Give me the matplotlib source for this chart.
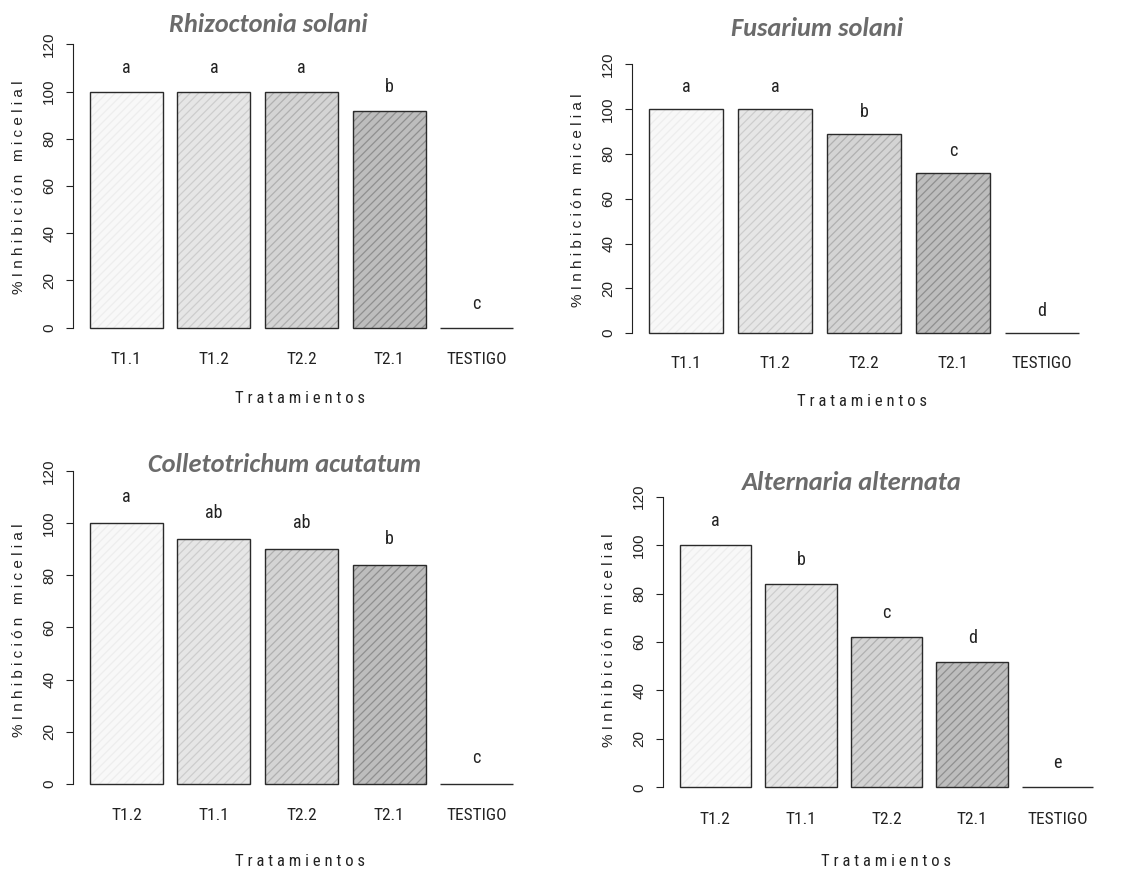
import matplotlib
matplotlib.use("Agg")
import matplotlib.pyplot as plt

# datos
titulos = ["Rhizoctonia solani", "Fusarium solani",
           "Colletotrichum acutatum", "Alternaria alternata"]

trat_1 = ["T1.1", "T1.2", "T2.2", "T2.1", "TESTIGO"]
inhib_1 = [100, 100, 100, 91.8, 0]
letras_1 = ["a", "a", "a", "b", "c"]

trat_2 = ["T1.1", "T1.2", "T2.2", "T2.1", "TESTIGO"]
inhib_2 = [100, 100, 88.9, 71.4, 0]
letras_2 = ["a", "a", "b", "c", "d"]

trat_3 = ["T1.2", "T1.1", "T2.2", "T2.1", "TESTIGO"]
inhib_3 = [100, 94.0, 90.3, 84.1, 0]
letras_3 = ["a", "ab", "ab", "b", "c"]

trat_4 = ["T1.2", "T1.1", "T2.2", "T2.1", "TESTIGO"]
inhib_4 = [100, 83.9, 61.9, 51.6, 0]
letras_4 = ["a", "b", "c", "d", "e"]

# grises y rayado por posicion (como el barplot de R)
relleno = ["#f8f8f8", "#e6e6e6", "#d4d4d4", "#bdbdbd", "#ffffff"]
rayas = ["#ededed", "#cdcdcd", "#b0b0b0", "#8f8f8f", "#ffffff"]

W, H = 1135, 873
fig = plt.figure(figsize=(W / 100, H / 100), dpi=100)
plt.rcParams["hatch.linewidth"] = 0.9

estrecha = ["Roboto Condensed", "Liberation Sans", "DejaVu Sans"]
normal = ["Liberation Sans", "DejaVu Sans"]
texto = "#222222"

# (izq, arriba, der, abajo) de los ejes, titulo, xlabel, ylabel en pixeles
paneles = [
    ((73, 33, 530, 339), (268, 25), (300, 399), (19, 187)),
    ((632, 53.5, 1096, 344), (817, 28), (862, 402), (578, 200)),
    ((73, 459, 530, 796), (285, 464), (300, 862), (19, 630)),
    ((663, 485, 1110, 799), (852, 482), (886, 862), (609, 640)),
]
datos = [(trat_1, inhib_1, letras_1), (trat_2, inhib_2, letras_2),
         (trat_3, inhib_3, letras_3), (trat_4, inhib_4, letras_4)]


def px(x, y):
    return x / W, 1 - y / H


for i in range(4):
    (l, t, r, b), tpos, xpos, ypos = paneles[i]
    trat, inhib, letras = datos[i]
    ax = fig.add_axes([l / W, 1 - b / H, (r - l) / W, (b - t) / H])
    pos = [0.7 + 1.2 * k for k in range(len(trat))]
    ax.bar(pos, inhib, width=1.0, color=relleno, edgecolor=rayas,
           hatch="////", linewidth=0)
    ax.bar(pos, inhib, width=1.0, facecolor="none", edgecolor="#2a2a2a",
           linewidth=1.0)
    for k in range(len(trat)):
        ax.text(pos[k], inhib[k] + 10, letras[k], ha="center", va="center",
                fontsize=13, family=estrecha, color=texto)
    ax.set_xlim(-0.032, 6.232)
    ax.set_ylim(-4.8, 124.8)
    for s in ["top", "right", "bottom"]:
        ax.spines[s].set_visible(False)
    ax.spines["left"].set_bounds(0, 120)
    ax.spines["left"].set_color("#222222")
    ax.set_yticks(range(0, 121, 20))
    ax.set_yticklabels([str(v) for v in range(0, 121, 20)], rotation=90,
                       va="center", fontsize=11, color=texto, family=normal)
    ax.tick_params(axis="y", length=5, pad=7, color="#222222")
    ax.set_xticks(pos)
    ax.set_xticklabels(trat, fontsize=12.5, family=estrecha, color=texto)
    ax.tick_params(axis="x", length=0, pad=9)

    fig.text(*px(*tpos), titulos[i], ha="center", va="center", fontsize=19,
             fontweight="bold", fontstyle="italic", color="#6b6b6b",
             family=["Carlito", "Lato", "DejaVu Sans"])
    fig.text(*px(*xpos), "T r a t a m i e n t o s", ha="center",
             va="center", fontsize=12, color=texto, family=estrecha)
    fig.text(*px(*ypos), "% I n h i b i c i ó n   m i c e l i a l",
             ha="center", va="center", rotation=90, fontsize=11,
             color=texto, family=normal)

fig.savefig("out.png", dpi=100)
